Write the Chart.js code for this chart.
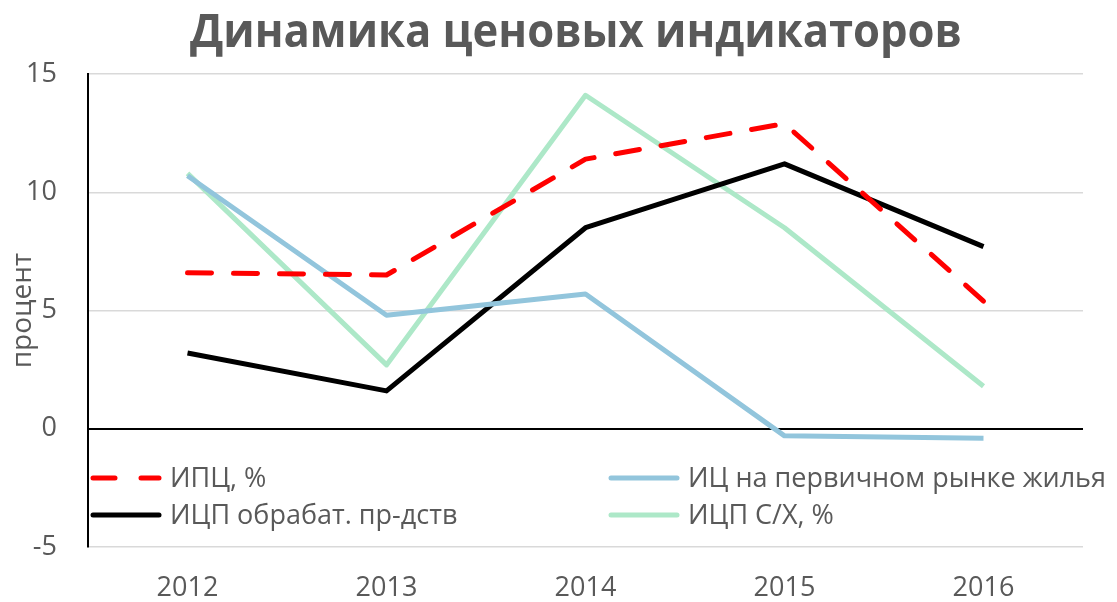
<!DOCTYPE html>
<html><head><meta charset="utf-8">
<script src="https://cdn.jsdelivr.net/npm/chart.js@4"></script>
<style>html,body{margin:0;padding:0;background:#fff}#wrap{width:1117px;height:602px;position:relative}</style>
</head><body><div id="wrap"><canvas id="c" width="1117" height="602"></canvas></div>
<script>
const categories = ['2012','2013','2014','2015','2016'];
const seriesNames = ['ИПЦ, %','ИЦ на первичном рынке жилья','ИЦП обрабат. пр-дств','ИЦП С/Х, %'];
const cpi = [6.6, 6.5, 11.4, 12.9, 5.4];
const housing = [10.7, 4.8, 5.7, -0.3, -0.4];
const manufacturing = [3.2, 1.6, 8.5, 11.2, 7.7];
const agriculture = [10.8, 2.7, 14.1, 8.5, 1.8];
const yTicks = [-5, 0, 5, 10, 15];
const titleText = 'Динамика ценовых индикаторов';
const yTitle = 'процент';

const colors = ['#ff0000', '#92c5dc', '#000000', '#ade8c8'];

const titlePlugin = {
  id: 'customTitle',
  afterDraw(chart) {
    const ctx = chart.ctx;
    ctx.save();
    ctx.font = 'bold 46px "Open Sans"';
    const w = ctx.measureText(titleText).width;
    const target = 772;
    const sx = target / w;
    ctx.translate(576, 47);
    ctx.scale(sx, 1);
    ctx.fillStyle = '#595959';
    ctx.textAlign = 'center';
    ctx.textBaseline = 'alphabetic';
    ctx.fillText(titleText, 0, 0);
    ctx.restore();
  }
};

const legendPlugin = {
  id: 'insideLegend',
  afterDatasetsDraw(chart) {
    const ctx = chart.ctx;
    const pos = [[90, 478], [608, 478], [90, 515], [608, 515]];
    ctx.save();
    ctx.font = '27px "Open Sans"';
    ctx.textBaseline = 'middle';
    chart.data.datasets.forEach((ds, i) => {
      const [x, y] = pos[i];
      ctx.strokeStyle = ds.borderColor;
      ctx.lineWidth = 5;
      ctx.lineCap = 'round';
      ctx.setLineDash(ds.borderDash && ds.borderDash.length ? [22, 26] : []);
      ctx.beginPath();
      ctx.moveTo(x + 3, y);
      ctx.lineTo(x + 69, y);
      ctx.stroke();
      ctx.setLineDash([]);
      ctx.fillStyle = '#595959';
      ctx.fillText(ds.label, x + 80, y + 1);
    });
    ctx.restore();
  }
};

new Chart(document.getElementById('c'), {
  type: 'line',
  data: {
    labels: categories,
    datasets: [
      {label: seriesNames[0], data: cpi, borderColor: colors[0], borderDash: [24, 22], borderCapStyle: 'round'},
      {label: seriesNames[1], data: housing, borderColor: colors[1]},
      {label: seriesNames[2], data: manufacturing, borderColor: colors[2]},
      {label: seriesNames[3], data: agriculture, borderColor: colors[3]}
    ].map(d => Object.assign({borderWidth: 5, pointRadius: 0, tension: 0, fill: false, borderJoinStyle: 'round'}, d))
  },
  options: {
    responsive: false,
    animation: false,
    layout: {padding: {left: 0, right: 34, top: 74, bottom: 0}},
    plugins: {
      legend: {display: false},
      tooltip: {enabled: false},
      title: {display: false}
    },
    scales: {
      x: {
        offset: true,
        grid: {display: false},
        border: {display: false},
        ticks: {color: '#595959', padding: 17, font: {family: '"Open Sans"', size: 27}},
        afterFit(s) { s.height = 55; }
      },
      y: {
        min: -5, max: 15,
        afterBuildTicks(s) { s.ticks = yTicks.map(v => ({value: v})); },
        grid: {drawTicks: false, color: c => c.tick && c.tick.value === 0 ? '#000000' : '#d9d9d9', lineWidth: c => c.tick && c.tick.value === 0 ? 2 : 1.5},
        border: {display: true, color: '#000000', width: 2},
        ticks: {color: '#595959', padding: 31, font: {family: '"Open Sans"', size: 27}},
        title: {display: true, text: yTitle, color: '#595959', font: {family: '"Open Sans"', size: 28}, padding: {top: 6, bottom: 0}},
        afterFit(s) { s.width = 88; }
      }
    }
  },
  plugins: [legendPlugin, titlePlugin]
});
</script></body></html>
